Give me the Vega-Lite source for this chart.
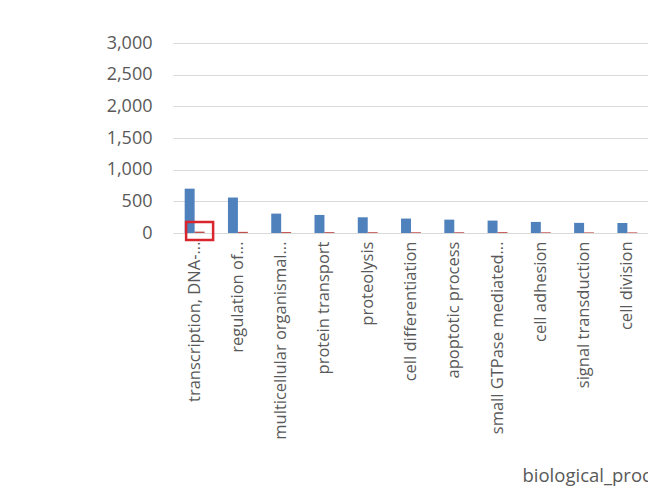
{
  "$schema": "https://vega.github.io/schema/vega-lite/v6.json",
  "autosize": {"type": "none"},
  "padding": {"left": 173, "top": 43, "right": 0, "bottom": 265},
  "width": 476,
  "height": 190,
  "background": "white",
  "config": {
    "view": {"stroke": null},
    "font": "Open Sans"
  },
  "datasets": {
    "bars": [
      {"category": "transcription, DNA-...", "series": "A", "value": 700},
      {"category": "transcription, DNA-...", "series": "B", "value": 22},
      {"category": "regulation of...", "series": "A", "value": 560},
      {"category": "regulation of...", "series": "B", "value": 18},
      {"category": "multicellular organismal...", "series": "A", "value": 306},
      {"category": "multicellular organismal...", "series": "B", "value": 15},
      {"category": "protein transport", "series": "A", "value": 285},
      {"category": "protein transport", "series": "B", "value": 14},
      {"category": "proteolysis", "series": "A", "value": 248},
      {"category": "proteolysis", "series": "B", "value": 13},
      {"category": "cell differentiation", "series": "A", "value": 228},
      {"category": "cell differentiation", "series": "B", "value": 12},
      {"category": "apoptotic process", "series": "A", "value": 211},
      {"category": "apoptotic process", "series": "B", "value": 12},
      {"category": "small GTPase mediated...", "series": "A", "value": 196},
      {"category": "small GTPase mediated...", "series": "B", "value": 14},
      {"category": "cell adhesion", "series": "A", "value": 175},
      {"category": "cell adhesion", "series": "B", "value": 11},
      {"category": "signal transduction", "series": "A", "value": 160},
      {"category": "signal transduction", "series": "B", "value": 10},
      {"category": "cell division", "series": "A", "value": 158},
      {"category": "cell division", "series": "B", "value": 10}
    ],
    "highlight": [
      {"category": "transcription, DNA-...", "series": "B", "value": 30}
    ]
  },
  "encoding": {
    "x": {
      "field": "category",
      "type": "nominal",
      "sort": null,
      "scale": {"paddingInner": 0.54, "paddingOuter": 0.27},
      "axis": {
        "title": "biological_process",
        "titleX": 349,
        "titleY": 248,
        "titleAlign": "left",
        "titleBaseline": "alphabetic",
        "titleFont": "Open Sans",
        "titleFontSize": 18.5,
        "titleFontWeight": "normal",
        "titleColor": "#595959",
        "labelAngle": -90,
        "labelFont": "Open Sans",
        "labelFontSize": 16.5,
        "labelColor": "#595959",
        "labelPadding": 8,
        "labelLimit": 300,
        "ticks": false,
        "domainColor": "#d9d9d9",
        "domainWidth": 1
      }
    },
    "xOffset": {"field": "series", "type": "nominal", "sort": ["A", "B"], "scale": {"paddingInner": 0}},
    "y": {
      "field": "value",
      "type": "quantitative",
      "scale": {"domain": [0, 3000], "nice": false},
      "axis": {
        "title": null,
        "values": [0, 500, 1000, 1500, 2000, 2500, 3000],
        "format": ",d",
        "labelFont": "Open Sans",
        "labelFontSize": 18,
        "labelColor": "#595959",
        "labelPadding": 21,
        "ticks": false,
        "domain": false,
        "gridColor": "#d9d9d9",
        "gridWidth": 1
      }
    }
  },
  "layer": [
    {
      "data": {"name": "bars"},
      "mark": {"type": "bar"},
      "encoding": {
        "color": {
          "field": "series",
          "type": "nominal",
          "scale": {"domain": ["A", "B"], "range": ["#4F81BD", "#C0504D"]},
          "legend": null
        }
      }
    },
    {
      "data": {"name": "highlight"},
      "mark": {
        "type": "point",
        "shape": "M-1,-0.667H1V0.667H-1Z",
        "size": 729,
        "filled": false,
        "stroke": "#D9262E",
        "strokeWidth": 2.5,
        "opacity": 1
      }
    }
  ]
}
